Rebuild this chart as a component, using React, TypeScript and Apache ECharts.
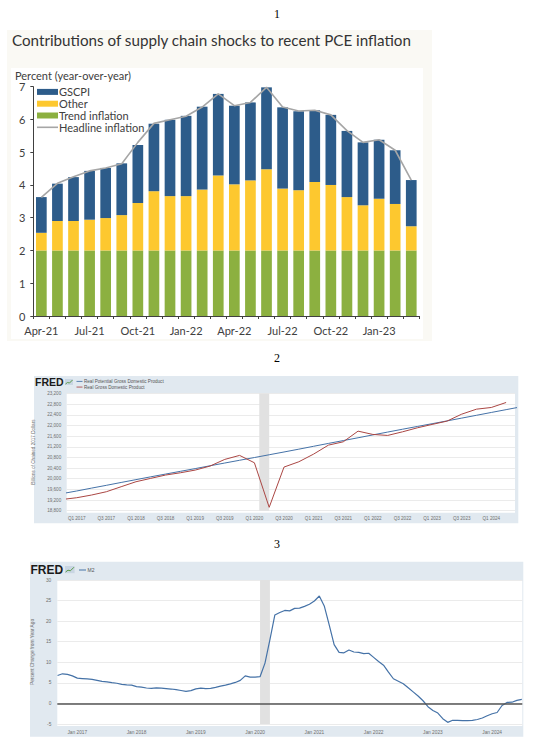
import React, { useEffect, useRef } from "react";
import * as echarts from "echarts";

// ---------- Chart 1: PCE inflation contributions ----------
const pceMonths = ["Apr-21","May-21","Jun-21","Jul-21","Aug-21","Sep-21","Oct-21","Nov-21","Dec-21","Jan-22","Feb-22","Mar-22","Apr-22","May-22","Jun-22","Jul-22","Aug-22","Sep-22","Oct-22","Nov-22","Dec-22","Jan-23","Feb-23","Mar-23"];
const trendInflation = [2,2,2,2,2,2,2,2,2,2,2,2,2,2,2,2,2,2,2,2,2,2,2,2];
const otherContribution = [0.54,0.90,0.90,0.94,0.99,1.08,1.45,1.81,1.66,1.66,1.86,2.29,2.02,2.14,2.48,1.89,1.84,2.09,2.00,1.63,1.38,1.58,1.42,0.74];
const gscpiContribution = [1.09,1.14,1.34,1.49,1.53,1.58,1.77,2.06,2.33,2.45,2.53,2.49,2.40,2.38,2.50,2.48,2.41,2.19,2.14,2.02,1.92,1.80,1.64,1.41];
const headlineInflation = [3.62,4.05,4.25,4.43,4.52,4.65,5.30,5.88,5.99,6.10,6.38,6.78,6.42,6.52,6.98,6.38,6.26,6.28,6.14,5.66,5.30,5.38,5.06,4.15];

// ---------- Chart 2: Real GDP vs potential (quarters since Q1 2017, starting Q4 2016) ----------
const gdpStartQuarter = -1;
const realGdp = [19220,19287,19388,19512,19700,19887,20014,20138,20224,20325,20475,20726,20876,20599,18927,20438,20637,20925,21262,21386,21787,21663,21626,21761,21911,22038,22162,22424,22612,22675,22863];
const potentialGdp = [19440,19540,19648,19752,19860,19966,20072,20175,20278,20380,20486,20590,20693,20796,20900,21004,21110,21218,21326,21432,21538,21645,21752,21858,21962,22066,22170,22276,22382,22488,22594,22700];
const gdpTickLabels = ["Q1 2017","Q3 2017","Q1 2018","Q3 2018","Q1 2019","Q3 2019","Q1 2020","Q3 2020","Q1 2021","Q3 2021","Q1 2022","Q3 2022","Q1 2023","Q3 2023","Q1 2024"];

// ---------- Chart 3: M2 YoY (months since Jan 2017, starting Sep 2016) ----------
const m2StartMonth = -4;
const m2Yoy = [6.8,7.2,7.05,6.7,6.15,6.05,5.95,5.85,5.6,5.35,5.25,5.05,4.9,4.65,4.5,4.45,4.1,3.95,3.75,3.65,3.8,3.7,3.6,3.5,3.35,3.15,2.95,3.1,3.55,3.7,3.6,3.65,3.9,4.2,4.45,4.75,5.1,5.6,6.7,6.4,6.4,6.5,9.8,15.5,21.5,22.1,22.6,22.5,23.1,23.15,23.6,24.1,24.9,26.1,23.7,19.1,14.3,12.4,12.3,13.0,12.5,12.4,12.1,12.2,11.2,10.2,9.3,7.6,6.0,5.4,4.8,3.8,2.8,1.8,0.65,-0.8,-1.7,-2.35,-3.7,-4.6,-4.1,-4.1,-4.2,-4.2,-4.1,-3.9,-3.55,-3.0,-2.5,-2.2,-0.5,0.25,0.3,0.75,1.0];
const m2TickLabels = ["Jan 2017","Jan 2018","Jan 2019","Jan 2020","Jan 2021","Jan 2022","Jan 2023","Jan 2024"];

const gdpRealPairs = realGdp.map((v, i) => [gdpStartQuarter + i, v]);
const gdpPotPairs = potentialGdp.map((v, i) => [gdpStartQuarter + i, v]);
const m2Pairs = m2Yoy.map((v, i) => [m2StartMonth + i, v]);

const F1 = "Lato, 'Open Sans', sans-serif";
const FF = "'Liberation Sans', Arial, sans-serif";
const fredGrey = "#6f6f6f";
const lineIconWide = "path://M0,0L21,0L21,1.6L0,1.6Z";
const lineIconSmall = "path://M0,0L7,0L7,1L0,1Z";

function fredIcon(x: number, y: number, s: number) {
  return {
    type: "group",
    x,
    y,
    z: 5,
    children: [
      { type: "rect", shape: { x: 0, y: 0, width: 8 * s, height: 6 * s }, style: { fill: "#c9d6e3" } },
      { type: "polyline", shape: { points: [[0.5 * s, 5 * s], [2.5 * s, 3.5 * s], [4.5 * s, 4 * s], [7.5 * s, 1 * s]] }, style: { stroke: "#5b9b4a", lineWidth: 1, fill: "none" } },
    ],
  };
}

export default function App() {
  const ref = useRef<HTMLDivElement>(null);
  useEffect(() => {
    const chart = echarts.init(ref.current!, null, { renderer: "svg" });
    const option: any = {
      animation: false,
      graphic: [
        { type: "text", x: 277, y: 14, z: 5, style: { text: "1", fontSize: 12, fontFamily: "'Liberation Serif', serif", fill: "#000", textAlign: "center", textVerticalAlign: "middle" } },
        { type: "rect", z: -10, shape: { x: 7, y: 30, width: 425, height: 311 }, style: { fill: "#faf9f4" } },
        { type: "rect", z: -9, shape: { x: 11, y: 68, width: 412, height: 271 }, style: { fill: "#ffffff" } },
        { type: "text", x: 12, y: 40, z: 5, style: { text: "Contributions of supply chain shocks to recent PCE inflation", fontSize: 15.2, fontFamily: F1, fill: "#333333", textVerticalAlign: "middle" } },
        { type: "text", x: 15, y: 75, z: 5, style: { text: "Percent (year-over-year)", fontSize: 11, fontFamily: F1, fill: "#404040", textVerticalAlign: "middle" } },

        { type: "text", x: 277, y: 358, z: 5, style: { text: "2", fontSize: 12, fontFamily: "'Liberation Serif', serif", fill: "#000", textAlign: "center", textVerticalAlign: "middle" } },
        { type: "rect", z: -10, shape: { x: 34, y: 376, width: 484.3, height: 147.3 }, style: { fill: "#e1e9f0" } },
        { type: "rect", z: -9, shape: { x: 66.7, y: 394, width: 448.3, height: 118.7 }, style: { fill: "#ffffff" } },
        { type: "text", x: 35, y: 382, z: 5, style: { text: "FRED", fontSize: 10.5, fontWeight: "bold", fontFamily: FF, fill: "#1a1a1a", textVerticalAlign: "middle" } },
        fredIcon(65, 379, 1),

        { type: "text", x: 277, y: 544, z: 5, style: { text: "3", fontSize: 12, fontFamily: "'Liberation Serif', serif", fill: "#000", textAlign: "center", textVerticalAlign: "middle" } },
        { type: "rect", z: -10, shape: { x: 30, y: 561.7, width: 493.3, height: 175 }, style: { fill: "#e1e9f0" } },
        { type: "rect", z: -9, shape: { x: 57.3, y: 581, width: 465, height: 145 }, style: { fill: "#ffffff" } },
        { type: "text", x: 30.5, y: 570, z: 5, style: { text: "FRED", fontSize: 12, fontWeight: "bold", fontFamily: FF, fill: "#1a1a1a", textVerticalAlign: "middle" } },
        fredIcon(65, 566, 1.2),
      ],
      legend: [
        {
          orient: "vertical",
          left: 37,
          top: 86,
          padding: 0,
          itemGap: 0,
          itemWidth: 21,
          itemHeight: 6,
          data: [
            { name: "GSCPI", icon: "rect" },
            { name: "Other", icon: "rect" },
            { name: "Trend inflation", icon: "rect" },
            { name: "Headline inflation", icon: lineIconWide },
          ],
          textStyle: { fontSize: 11, lineHeight: 11.8, color: "#404040", fontFamily: F1, padding: [0, 0, 0, -4] },
        },
        {
          orient: "vertical",
          left: 76.5,
          top: 378.5,
          padding: 0,
          itemGap: 0,
          itemWidth: 6,
          itemHeight: 3,
          data: [
            { name: "Real Potential Gross Domestic Product", icon: lineIconSmall },
            { name: "Real Gross Domestic Product", icon: lineIconSmall },
          ],
          textStyle: { fontSize: 4.6, lineHeight: 5.7, color: "#555", fontFamily: FF, padding: [0, 0, 0, -3.5] },
        },
        {
          orient: "vertical",
          left: 79,
          top: 567,
          padding: 0,
          itemGap: 0,
          itemWidth: 7,
          itemHeight: 3,
          data: [{ name: "M2", icon: lineIconSmall }],
          textStyle: { fontSize: 5, lineHeight: 6, color: "#555", fontFamily: FF, padding: [0, 0, 0, -3.5] },
        },
      ],
      grid: [
        { left: 33.3, top: 86.7, width: 386, height: 229.3 },
        { left: 66.7, top: 393.5, width: 448.3, height: 117.2 },
        { left: 57.3, top: 580, width: 465, height: 144 },
      ],
      xAxis: [
        {
          type: "category",
          gridIndex: 0,
          data: pceMonths,
          axisLine: { lineStyle: { color: "#404040", width: 1 } },
          axisTick: { show: true, interval: 0, length: 3, lineStyle: { color: "#404040" } },
          axisLabel: { interval: 2, fontSize: 11, color: "#404040", fontFamily: F1, margin: 9 },
        },
        {
          type: "value",
          gridIndex: 1,
          min: -0.676,
          max: 29.6,
          axisLine: { show: false },
          axisTick: { show: false },
          splitLine: { show: false },
          axisLabel: {
            customValues: [0, 2, 4, 6, 8, 10, 12, 14, 16, 18, 20, 22, 24, 26, 28],
            formatter: (v: number) => gdpTickLabels[Math.round(v / 2)] ?? "",
            fontSize: 4.6,
            color: fredGrey,
            fontFamily: FF,
            margin: 5,
          },
        },
        {
          type: "value",
          gridIndex: 2,
          min: -4.05,
          max: 90.1,
          axisLine: { show: false },
          axisTick: { show: false },
          splitLine: { show: false },
          axisLabel: {
            customValues: [0, 12, 24, 36, 48, 60, 72, 84],
            formatter: (v: number) => m2TickLabels[Math.round(v / 12)] ?? "",
            fontSize: 4.8,
            color: fredGrey,
            fontFamily: FF,
            margin: 6,
          },
        },
      ],
      yAxis: [
        {
          type: "value",
          gridIndex: 0,
          min: 0,
          max: 7,
          interval: 1,
          axisLine: { show: true, lineStyle: { color: "#404040", width: 1 } },
          axisTick: { show: true, length: 3, lineStyle: { color: "#404040" } },
          splitLine: { show: false },
          axisLabel: { fontSize: 11, color: "#404040", fontFamily: F1, margin: 8 },
        },
        {
          type: "value",
          gridIndex: 1,
          min: 18800,
          max: 23200,
          interval: 400,
          axisLine: { show: false },
          axisTick: { show: false },
          splitLine: { lineStyle: { color: "#ebebeb", width: 1 } },
          axisLabel: { fontSize: 4.6, color: fredGrey, fontFamily: FF, margin: 5.5, formatter: (v: number) => v.toLocaleString("en-US") },
          name: "Billions of Chained 2017 Dollars",
          nameLocation: "middle",
          nameRotate: 90,
          nameGap: 27,
          nameTextStyle: { fontSize: 4.6, color: fredGrey, fontFamily: FF },
        },
        {
          type: "value",
          gridIndex: 2,
          min: -5,
          max: 30,
          interval: 5,
          axisLine: { show: false },
          axisTick: { show: false },
          splitLine: { lineStyle: { color: "#ebebeb", width: 1 } },
          axisLabel: { fontSize: 4.8, color: fredGrey, fontFamily: FF, margin: 6 },
          name: "Percent Change from Year Ago",
          nameLocation: "middle",
          nameRotate: 90,
          nameGap: 21,
          nameTextStyle: { fontSize: 4.8, color: fredGrey, fontFamily: FF },
        },
      ],
      series: [
        { name: "Trend inflation", type: "bar", stack: "pce", xAxisIndex: 0, yAxisIndex: 0, data: trendInflation, barWidth: 10.7, itemStyle: { color: "#8cb040" } },
        { name: "Other", type: "bar", stack: "pce", xAxisIndex: 0, yAxisIndex: 0, data: otherContribution, barWidth: 10.7, itemStyle: { color: "#fdc82f" } },
        { name: "GSCPI", type: "bar", stack: "pce", xAxisIndex: 0, yAxisIndex: 0, data: gscpiContribution, barWidth: 10.7, itemStyle: { color: "#2d5c8a" } },
        { name: "Headline inflation", type: "line", xAxisIndex: 0, yAxisIndex: 0, data: headlineInflation, symbol: "none", lineStyle: { color: "#a6a6a6", width: 1.6 }, itemStyle: { color: "#a6a6a6" }, z: 5 },

        { name: "Real Potential Gross Domestic Product", type: "line", xAxisIndex: 1, yAxisIndex: 1, data: gdpPotPairs, symbol: "none", clip: true, lineStyle: { color: "#4572a7", width: 1 }, itemStyle: { color: "#4572a7" } },
        {
          name: "Real Gross Domestic Product", type: "line", xAxisIndex: 1, yAxisIndex: 1, data: gdpRealPairs, symbol: "none", clip: true,
          lineStyle: { color: "#aa4643", width: 1 }, itemStyle: { color: "#aa4643" },
          markArea: { silent: true, itemStyle: { color: "#e1e1e1" }, data: [[{ xAxis: 12.33 }, { xAxis: 13 }]] },
        },
        {
          name: "M2", type: "line", xAxisIndex: 2, yAxisIndex: 2, data: m2Pairs, symbol: "none", clip: true,
          lineStyle: { color: "#4572a7", width: 1.2 }, itemStyle: { color: "#4572a7" },
          markArea: { silent: true, itemStyle: { color: "#e1e1e1" }, data: [[{ xAxis: 37 }, { xAxis: 39 }]] },
          markLine: { silent: true, symbol: "none", label: { show: false }, lineStyle: { color: "#555555", width: 1.5, type: "solid" }, data: [{ yAxis: 0 }] },
        },
      ],
    };
    chart.setOption(option);
    return () => chart.dispose();
  }, []);
  return <div ref={ref} style={{ position: "absolute", left: 0, top: 0, width: 544, height: 743 }} />;
}
